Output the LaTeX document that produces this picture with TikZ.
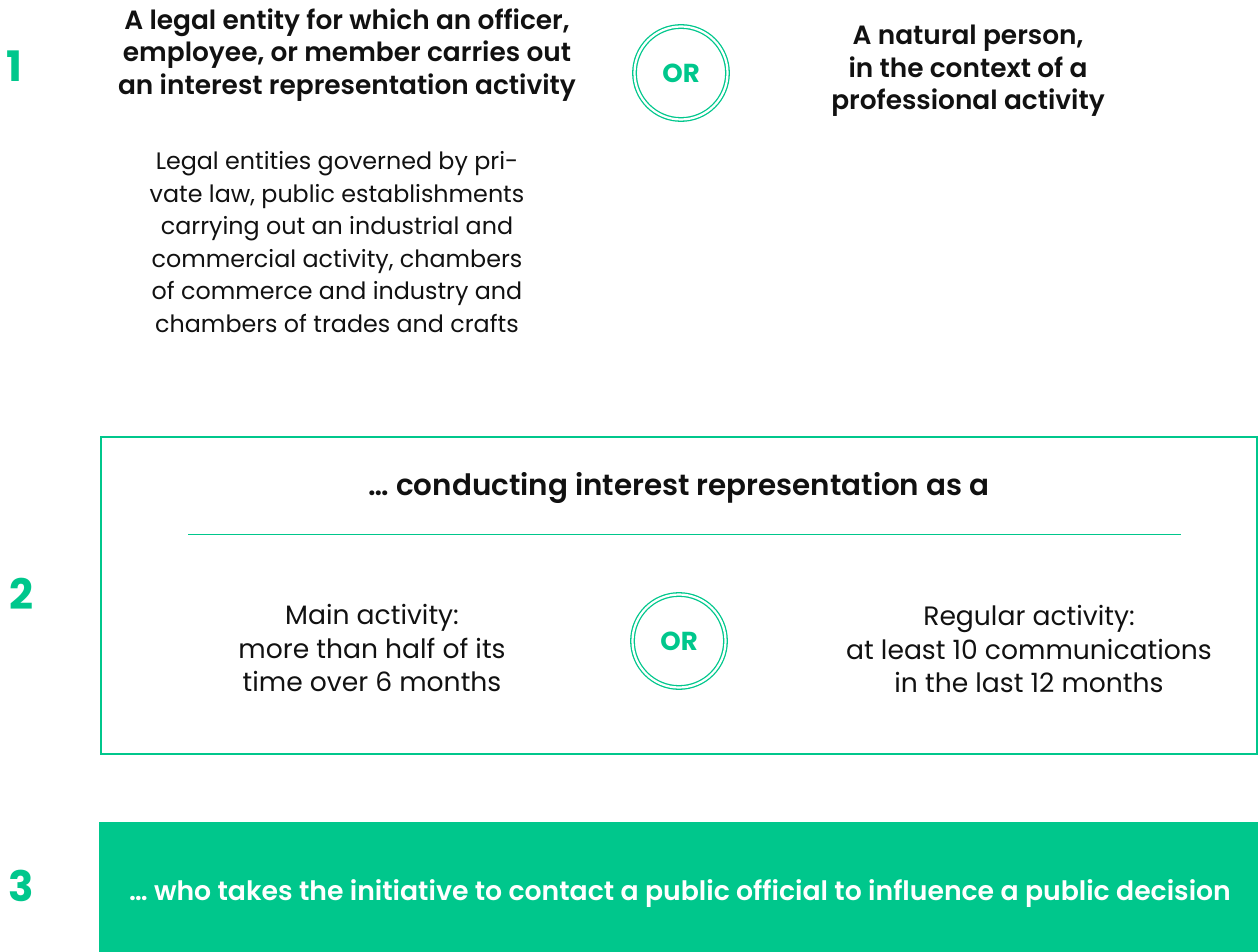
\documentclass[tikz,border=0pt]{standalone}
\usepackage{fontspec}
\setmainfont{Poppins}[BoldFont={Poppins SemiBold}]
\newfontfamily\heavyfont{Poppins Bold}
\definecolor{brand}{HTML}{00C78C}
\definecolor{ink}{HTML}{111111}
\begin{document}
\begin{tikzpicture}[x=1pt,y=-1pt,
  heading/.style={font=\fontsize{26.4}{32.5}\selectfont\bfseries, text=ink, align=center, inner sep=0pt},
  body/.style={font=\fontsize{23.8}{32.5}\selectfont, text=ink, align=center, inner sep=0pt},
  subbody/.style={font=\fontsize{26.6}{33.5}\selectfont, text=ink, align=center, inner sep=0pt},
  stepnum/.style={font=\fontsize{42}{42}\selectfont\heavyfont, text=brand, inner sep=0pt},
  orring/.style={circle, draw=brand, double=white, double distance=2.2pt, line width=1.3pt,
    minimum size=93pt, inner sep=0pt, text=brand, font=\fontsize{26}{26}\selectfont\heavyfont},
]
\useasboundingbox (0,0) rectangle (1258,952);

% step numbers
\node[stepnum] (num1) at (14,66) {1};
\node[stepnum] (num2) at (21,594) {2};
\node[stepnum] (num3) at (21,886) {3};

% step 1: who
\node[heading] (legal) at (347,55) {A legal entity for which an officer,\\employee, or member carries out\\an interest representation activity};
\node[orring] (or1) at (681,73) {OR};
\node[heading] (natural) at (968,71) {A natural person,\\in the context of a\\professional activity};
\node[body] (entities) at (337,242) {Legal entities governed by pri-\\vate law, public establishments\\carrying out an industrial and\\commercial activity, chambers\\of commerce and industry and\\chambers of trades and crafts};

% step 2: how
\node[draw=brand, line width=2pt, anchor=north west, minimum width=1156pt, minimum height=317pt, inner sep=0pt] (box2) at (100,436) {};
\node[font=\fontsize{29.4}{29.4}\selectfont\bfseries, text=ink, inner sep=0pt] (title2) at (679,488) {… conducting interest representation as a};
\coordinate (sepL) at (188,534);
\coordinate (sepR) at (1181,534);
\draw[brand, line width=1pt] (sepL) -- (sepR);
\node[subbody] (main) at (372,648) {Main activity:\\more than half of its\\time over 6 months};
\node[orring] (or2) at (679,641) {OR};
\node[subbody] (regular) at (1029,649) {Regular activity:\\at least 10 communications\\in the last 12 months};

% step 3: what
\node[fill=brand, anchor=north west, minimum width=1159pt, minimum height=130pt, inner sep=0pt] (box3) at (99,822) {};
\node[font=\fontsize{26.7}{26.7}\selectfont\bfseries, text=white, inner sep=0pt] (t3) at (680,894) {… who takes the initiative to contact a public official to influence a public decision};
\end{tikzpicture}
\end{document}
